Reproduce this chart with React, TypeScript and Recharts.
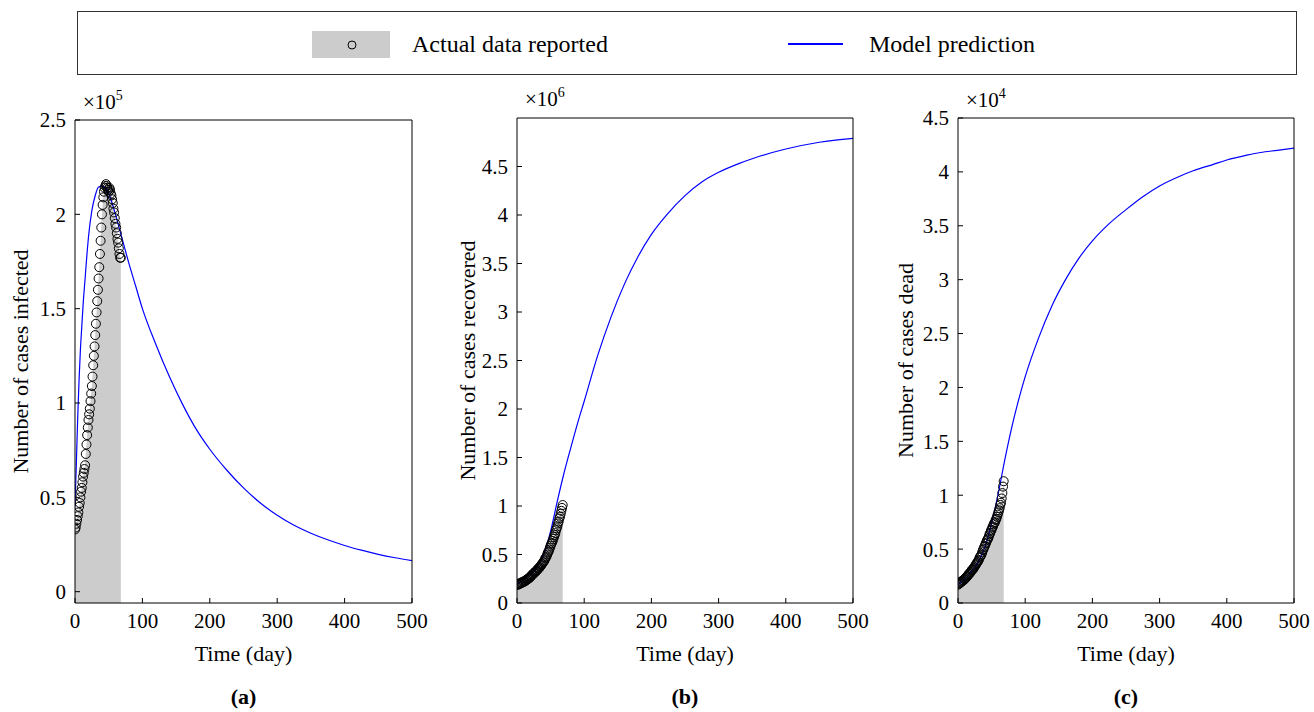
import React from 'react'
import { ComposedChart, Area, Line, Scatter, XAxis, YAxis } from 'recharts'

const FONT = '"Liberation Serif", "Times New Roman", serif'

// reported data: one point per day, day 0 .. 68
const reportedDays = Array.from({ length: 69 }, (_, i) => i)

// x10^5
const infectedReported = [
  0.33, 0.34, 0.36, 0.38, 0.40, 0.42, 0.45, 0.47, 0.50, 0.53,
  0.55, 0.58, 0.61, 0.63, 0.65, 0.67, 0.73, 0.78, 0.83, 0.87,
  0.91, 0.94, 0.97, 1.01, 1.05, 1.09, 1.14, 1.20, 1.25, 1.30,
  1.36, 1.42, 1.48, 1.54, 1.60, 1.66, 1.72, 1.79, 1.86, 1.93,
  2.00, 2.05, 2.09, 2.12, 2.14, 2.15, 2.16, 2.15, 2.14, 2.13,
  2.12, 2.14, 2.13, 2.11, 2.10, 2.08, 2.06, 2.03, 2.01, 1.98,
  1.95, 1.93, 1.90, 1.87, 1.85, 1.82, 1.79, 1.77, 1.77
]

// x10^6
const recoveredReported = [
  0.19, 0.19, 0.19, 0.20, 0.20, 0.20, 0.21, 0.21, 0.21, 0.22,
  0.22, 0.22, 0.23, 0.23, 0.24, 0.24, 0.25, 0.25, 0.26, 0.26,
  0.27, 0.28, 0.29, 0.29, 0.30, 0.31, 0.31, 0.32, 0.33, 0.33,
  0.34, 0.35, 0.36, 0.36, 0.37, 0.38, 0.39, 0.40, 0.41, 0.42,
  0.43, 0.44, 0.46, 0.47, 0.48, 0.50, 0.52, 0.53, 0.55, 0.57,
  0.59, 0.61, 0.62, 0.64, 0.66, 0.68, 0.70, 0.72, 0.75, 0.77,
  0.79, 0.82, 0.84, 0.87, 0.89, 0.92, 0.95, 0.98, 1.01
]

// x10^4
const deadReported = [
  0.17, 0.18, 0.18, 0.19, 0.19, 0.20, 0.20, 0.21, 0.21, 0.22,
  0.22, 0.23, 0.24, 0.24, 0.25, 0.26, 0.27, 0.27, 0.28, 0.29,
  0.30, 0.31, 0.31, 0.32, 0.33, 0.34, 0.35, 0.36, 0.37, 0.38,
  0.39, 0.40, 0.42, 0.43, 0.44, 0.45, 0.47, 0.49, 0.50, 0.52,
  0.53, 0.55, 0.56, 0.58, 0.59, 0.60, 0.62, 0.64, 0.65, 0.67,
  0.68, 0.70, 0.71, 0.73, 0.74, 0.75, 0.77, 0.78, 0.80, 0.82,
  0.84, 0.86, 0.88, 0.91, 0.93, 0.97, 1.02, 1.08, 1.13
]

// model curves
const infectedModelDays = [0, 2, 4, 6, 8, 10, 12, 15, 18, 20, 25, 30, 35, 40, 45, 50, 55, 60, 70, 80, 90, 100, 120, 140, 160, 180, 200, 225, 250, 275, 300, 325, 350, 375, 400, 425, 450, 475, 500]
const infectedModel = [0.45, 0.68, 0.92, 1.12, 1.28, 1.40, 1.52, 1.66, 1.80, 1.88, 2.02, 2.10, 2.145, 2.15, 2.14, 2.11, 2.06, 2.00, 1.87, 1.74, 1.62, 1.50, 1.31, 1.14, 0.99, 0.86, 0.755, 0.645, 0.55, 0.47, 0.405, 0.352, 0.31, 0.275, 0.245, 0.22, 0.198, 0.18, 0.165]

const recoveredModelDays = [0, 10, 20, 30, 40, 50, 60, 70, 80, 90, 100, 120, 140, 160, 180, 200, 225, 250, 275, 300, 330, 350, 400, 450, 500]
const recoveredModel = [0.19, 0.24, 0.30, 0.37, 0.50, 0.74, 1.05, 1.34, 1.60, 1.85, 2.08, 2.55, 2.95, 3.29, 3.57, 3.80, 4.02, 4.20, 4.34, 4.44, 4.53, 4.58, 4.68, 4.75, 4.79]

const deadModelDays = [0, 10, 20, 30, 40, 50, 60, 70, 80, 90, 100, 120, 140, 160, 180, 200, 225, 250, 275, 300, 330, 350, 380, 400, 430, 450, 475, 500]
const deadModel = [0.17, 0.22, 0.29, 0.38, 0.52, 0.74, 1.02, 1.34, 1.63, 1.88, 2.10, 2.46, 2.76, 3.00, 3.20, 3.36, 3.52, 3.65, 3.77, 3.87, 3.96, 4.01, 4.07, 4.11, 4.155, 4.18, 4.20, 4.22]

const timeTicks = [0, 100, 200, 300, 400, 500]
const infectedTicks = [0, 0.5, 1, 1.5, 2, 2.5]
const recoveredTicks = [0, 0.5, 1, 1.5, 2, 2.5, 3, 3.5, 4, 4.5]
const deadTicks = [0, 0.5, 1, 1.5, 2, 2.5, 3, 3.5, 4, 4.5]

const zip = (days: number[], values: number[]) => days.map((day, i) => ({ day, value: values[i] }))

const Ring = (props: any) => (
  <circle cx={props.cx} cy={props.cy} r={4.5} fill="none" stroke="#000" strokeWidth={1} />
)

const SVG_TOP = 80
const SVG_HEIGHT = 632
const PLOT_BOTTOM = 603

interface PanelProps {
  left: number
  width: number
  plotLeft: number
  plotRight: number
  plotTop: number
  yDomain: [number, number]
  yTicks: number[]
  yLabel: string
  yLabelX: number
  exponent: string
  expTop: number
  tag: string
  reported: { day: number; value: number }[]
  model: { day: number; value: number }[]
}

function Panel(p: PanelProps) {
  const tickStyle = { fontSize: 21, fontFamily: FONT, fill: '#000' }
  const xAxisHeight = SVG_HEIGHT - (PLOT_BOTTOM - SVG_TOP)
  const center = (p.plotLeft + p.plotRight) / 2
  return (
    <>
      <div style={{ position: 'absolute', left: p.left, top: SVG_TOP }}>
        <ComposedChart
          width={p.width}
          height={SVG_HEIGHT}
          margin={{ top: p.plotTop - SVG_TOP - 1, right: p.left + p.width - p.plotRight - 1, left: 0, bottom: 0 }}
        >
          <XAxis
            dataKey="day"
            type="number"
            domain={[0, 500]}
            ticks={timeTicks}
            interval={0}
            tickSize={-5}
            tickMargin={15}
            height={xAxisHeight}
            tick={tickStyle}
            stroke="#000"
            allowDataOverflow
            label={{ value: 'Time (day)', position: 'insideTop', offset: 42, fill: '#000', fontSize: 22, fontFamily: FONT }}
          />
          <XAxis
            xAxisId="top"
            orientation="top"
            type="number"
            domain={[0, 500]}
            ticks={timeTicks}
            interval={0}
            tickSize={-5}
            height={1}
            tick={false}
            stroke="#000"
            allowDataOverflow
          />
          <YAxis
            type="number"
            domain={p.yDomain}
            ticks={p.yTicks}
            interval={0}
            tickSize={-5}
            tickMargin={14}
            width={p.plotLeft - p.left}
            tick={tickStyle}
            stroke="#000"
            allowDataOverflow
            label={{
              value: p.yLabel,
              angle: -90,
              position: 'insideLeft',
              offset: p.yLabelX - p.left,
              fill: '#000',
              fontSize: 22,
              fontFamily: FONT,
              style: { textAnchor: 'middle' }
            }}
          />
          <YAxis
            yAxisId="right"
            orientation="right"
            type="number"
            domain={p.yDomain}
            ticks={p.yTicks}
            interval={0}
            tickSize={-5}
            width={1}
            tick={false}
            stroke="#000"
            allowDataOverflow
          />
          <Area
            data={p.reported}
            dataKey="value"
            type="linear"
            baseValue="dataMin"
            fill="#cccccc"
            fillOpacity={1}
            stroke="none"
            isAnimationActive={false}
          />
          <Line
            data={p.model}
            dataKey="value"
            type="monotone"
            stroke="#0000ff"
            strokeWidth={1.2}
            dot={false}
            isAnimationActive={false}
          />
          <Scatter data={p.reported} dataKey="value" shape={Ring} isAnimationActive={false} />
        </ComposedChart>
      </div>
      <div style={{ position: 'absolute', left: p.plotLeft + 8, top: p.expTop, fontSize: 21, lineHeight: '21px', whiteSpace: 'nowrap' }}>
        ×10<span style={{ fontSize: 14, position: 'relative', top: -9 }}>{p.exponent}</span>
      </div>
      <div style={{ position: 'absolute', left: center - 40, width: 80, top: 684, textAlign: 'center', fontSize: 22, lineHeight: '26px', fontWeight: 'bold' }}>
        {p.tag}
      </div>
    </>
  )
}

function LegendBox() {
  return (
    <div style={{ position: 'absolute', left: 77, top: 11, width: 1218, height: 62, border: '1px solid #333' }}>
      <div style={{ position: 'absolute', left: 234, top: 19, width: 78, height: 27, background: '#cccccc' }} />
      <svg style={{ position: 'absolute', left: 268, top: 27 }} width={12} height={12}>
        <circle cx={6} cy={6} r={4} fill="none" stroke="#000" strokeWidth={1} />
      </svg>
      <div style={{ position: 'absolute', left: 334, top: 17, fontSize: 24, lineHeight: '30px', whiteSpace: 'nowrap' }}>
        Actual data reported
      </div>
      <div style={{ position: 'absolute', left: 710, top: 31, width: 55, height: 2, background: '#0000ff' }} />
      <div style={{ position: 'absolute', left: 791, top: 17, fontSize: 24, lineHeight: '30px', whiteSpace: 'nowrap' }}>
        Model prediction
      </div>
    </div>
  )
}

export default function App() {
  return (
    <div style={{ position: 'absolute', left: 0, top: 0, width: 1314, height: 712, background: '#fff', fontFamily: FONT, color: '#000' }}>
      <LegendBox />
      <Panel
        left={0}
        width={440}
        plotLeft={75}
        plotRight={412}
        plotTop={120}
        yDomain={[-0.06, 2.5]}
        yTicks={infectedTicks}
        yLabel="Number of cases infected"
        yLabelX={20}
        exponent="5"
        expTop={92}
        tag="(a)"
        reported={zip(reportedDays, infectedReported)}
        model={zip(infectedModelDays, infectedModel)}
      />
      <Panel
        left={440}
        width={440}
        plotLeft={517}
        plotRight={853}
        plotTop={118}
        yDomain={[0, 5]}
        yTicks={recoveredTicks}
        yLabel="Number of cases recovered"
        yLabelX={467}
        exponent="6"
        expTop={89}
        tag="(b)"
        reported={zip(reportedDays, recoveredReported)}
        model={zip(recoveredModelDays, recoveredModel)}
      />
      <Panel
        left={880}
        width={434}
        plotLeft={958}
        plotRight={1294}
        plotTop={118}
        yDomain={[0, 4.5]}
        yTicks={deadTicks}
        yLabel="Number of cases dead"
        yLabelX={905}
        exponent="4"
        expTop={90}
        tag="(c)"
        reported={zip(reportedDays, deadReported)}
        model={zip(deadModelDays, deadModel)}
      />
    </div>
  )
}
